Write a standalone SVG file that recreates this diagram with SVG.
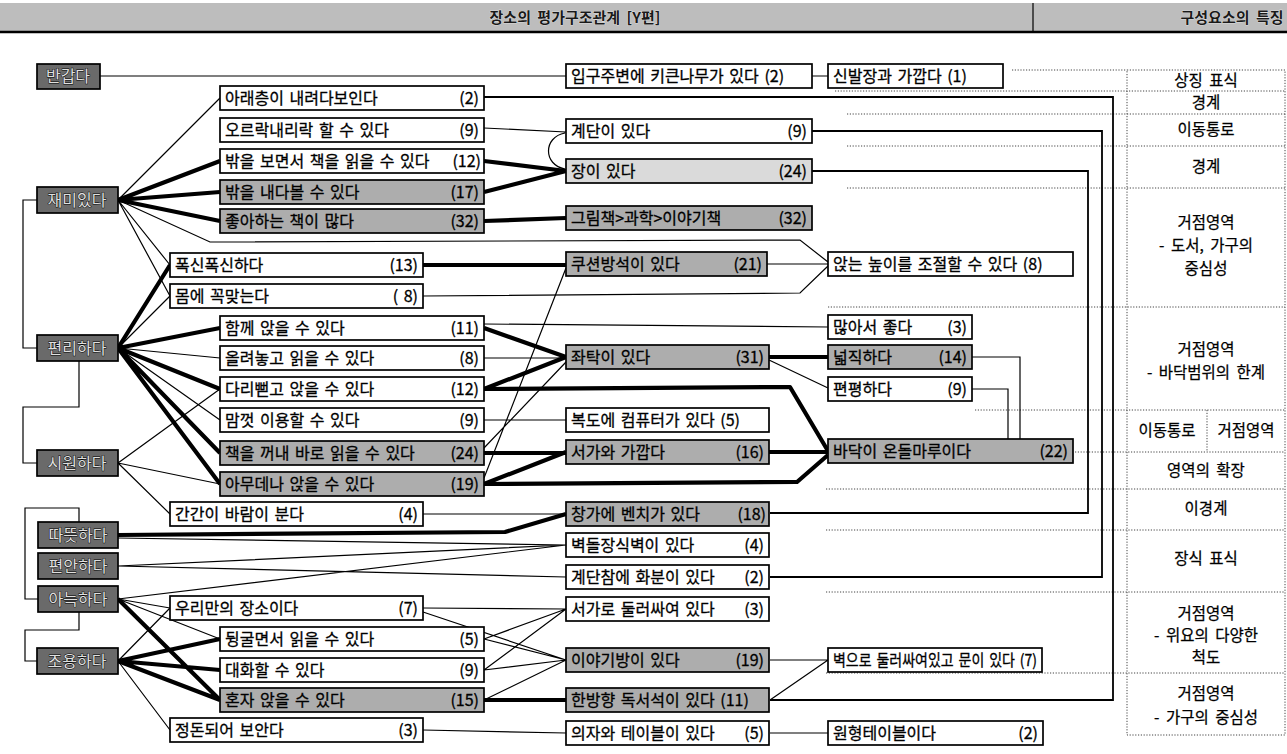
<svg xmlns="http://www.w3.org/2000/svg" width="1287" height="754" viewBox="0 0 1287 754">
<style>
.t{font-family:"Noto Sans CJK KR","Noto Sans",sans-serif;font-size:16px;fill:#000;stroke:#000;stroke-width:0.3;word-spacing:2px}
.c{text-anchor:end}
.w{fill:#fff;stroke:#000;stroke-width:1.7}
.g{fill:#adadad;stroke:#000;stroke-width:1.7}
.lg{fill:#dadada;stroke:#000;stroke-width:1.7}
.d{fill:#6a6a6a;stroke:#000;stroke-width:1.7}
.dt{font-family:"Noto Sans CJK KR","Noto Sans",sans-serif;font-size:16px;fill:#e0e0e0;stroke:#000;stroke-width:0.9;paint-order:stroke;text-anchor:middle}
.e{fill:none;stroke:#000;stroke-width:1.2}
.m2{fill:none;stroke:#000;stroke-width:1.8}
.E{fill:none;stroke:#000;stroke-width:4.2;stroke-linejoin:round}
.dot{fill:none;stroke:#444;stroke-width:1;stroke-dasharray:1.2 1.6}
.tb{font-family:"Noto Sans CJK KR","Noto Sans",sans-serif;font-size:15.5px;fill:#000;stroke:#000;stroke-width:0.25;text-anchor:middle;word-spacing:3px}
.hd{font-family:"Noto Sans CJK KR","Noto Sans",sans-serif;font-size:15px;font-weight:bold;fill:#1a1a1a;stroke:#f2f2f2;stroke-width:0.6;paint-order:stroke;text-anchor:middle;word-spacing:3px}
</style>
<rect width="1287" height="754" fill="#fff"/>
<g id="header">
<rect x="0" y="3" width="1287" height="28" fill="#bdbdbd"/>
<line x1="0" y1="32" x2="1287" y2="32" stroke="#000" stroke-width="2.5"/>
<line x1="1033" y1="3" x2="1033" y2="31" stroke="#000" stroke-width="1.2"/>
<text class="hd" x="575" y="23">장소의 평가구조관계 [Y편]</text>
<text class="hd" x="1232" y="23">구성요소의 특징</text>
</g>
<g id="table">
<rect x="1127" y="70" width="158" height="665" class="dot"/>
<path class="dot" d="M1012,70H1127M835,91H1285M847,114H1285M847,146H1285M847,188H1285M828,307H1285M975,410H1285M1075,452H1285M826,489H1285M826,530H1285M826,592H1285M826,673H1285M1207,410V452"/>
<text class="tb" x="1206" y="86">상징 표식</text>
<text class="tb" x="1206" y="108">경계</text>
<text class="tb" x="1206" y="135">이동통로</text>
<text class="tb" x="1206" y="172">경계</text>
<text class="tb" x="1206" y="228">거점영역</text>
<text class="tb" x="1206" y="251">- 도서, 가구의</text>
<text class="tb" x="1206" y="274">중심성</text>
<text class="tb" x="1206" y="355">거점영역</text>
<text class="tb" x="1206" y="378">- 바닥범위의 한계</text>
<text class="tb" x="1167" y="436">이동통로</text>
<text class="tb" x="1246" y="436">거점영역</text>
<text class="tb" x="1206" y="476">영역의 확장</text>
<text class="tb" x="1206" y="514">이경계</text>
<text class="tb" x="1206" y="564">장식 표식</text>
<text class="tb" x="1206" y="619">거점영역</text>
<text class="tb" x="1206" y="641">- 위요의 다양한</text>
<text class="tb" x="1206" y="663">척도</text>
<text class="tb" x="1206" y="699">거점영역</text>
<text class="tb" x="1206" y="723">- 가구의 중심성</text>
</g>
<g id="connectors">
<path class="e" d="M37,200H23V348H37M79,361V407H23V463H37M79,522V508H25V599H38M79,612V630H25V661H37"/>
<path class="e" d="M100,76H566M812,76H828"/>
<path class="e" d="M118,200L220,98M118,200L170,265M118,200L170,296M118,200L210,242L800,240L828,262"/>
<path class="E" d="M118,200L220,161M118,200L220,192M118,200L220,221"/>
<path class="m2" d="M484,97H1113V700H770"/>
<path class="m2" d="M812,131H1102V577H770"/>
<path class="m2" d="M812,171H1088V513H770"/>
<path class="e" d="M484,128L566,132M565,133C543,137 543,165 565,169"/>
<path class="E" d="M484,161L566,171M484,192L566,171M484,221L566,218"/>
<path class="E" d="M423,265H566"/>
<path class="e" d="M423,296L800,293L828,266M767,264H828"/>
<path class="E" d="M118,348L170,265M118,348L220,328M118,348L220,389M118,348L220,453M118,348L220,484"/>
<path class="e" d="M118,348L170,296M118,348L220,358M118,348L220,420"/>
<path class="e" d="M118,463L220,389M118,463L220,484M118,463L170,514"/>
<path class="E" d="M484,328L566,357M484,389L566,357M484,389L790,387L828,451M484,453H566M484,484L566,452M484,484L797,482L828,455M769,357H828M769,452H828"/>
<path class="e" d="M484,324L828,327M484,358H566M484,420H566M484,448L566,362M484,478L566,268M769,360L828,388"/>
<path class="e" d="M972,357H1020V439M972,389H1008V439"/>
<path class="e" d="M423,514H566"/>
<path class="E" d="M118,535L505,532L566,514"/>
<path class="e" d="M118,538L566,545M118,566L566,545M118,566L566,577M118,599L566,545"/>
<path class="e" d="M118,599L170,608M118,599L220,639M118,661L170,608M118,661L170,730"/>
<path class="E" d="M118,599L220,700M118,661L220,639M118,661L220,670M118,661L220,700M484,700H566"/>
<path class="e" d="M423,608L566,609M423,612L566,660M484,639L566,609M484,639L566,660M484,670L566,609M484,670L566,660M484,700L566,660M423,730L566,733"/>
<path class="e" d="M770,660H828M770,700L828,660M770,733H828"/>
</g>
<g id="n-bangapda"><rect class="d" x="37" y="64" width="63" height="25"/><text class="dt" x="68" y="82">반갑다</text></g>
<g id="n-jaemi"><rect class="d" x="37" y="187" width="81" height="26"/><text class="dt" x="77" y="206">재미있다</text></g>
<g id="n-pyeonri"><rect class="d" x="37" y="335" width="81" height="26"/><text class="dt" x="77" y="354">편리하다</text></g>
<g id="n-siwon"><rect class="d" x="37" y="450" width="81" height="26"/><text class="dt" x="77" y="469">시원하다</text></g>
<g id="n-ttatteut"><rect class="d" x="38" y="522" width="80" height="26"/><text class="dt" x="78" y="541">따뜻하다</text></g>
<g id="n-pyeonan"><rect class="d" x="38" y="553" width="80" height="26"/><text class="dt" x="78" y="572">편안하다</text></g>
<g id="n-aneuk"><rect class="d" x="38" y="586" width="80" height="26"/><text class="dt" x="78" y="605">아늑하다</text></g>
<g id="n-joyong"><rect class="d" x="37" y="648" width="81" height="26"/><text class="dt" x="77" y="667">조용하다</text></g>

<g id="a1"><rect class="w" x="220" y="86" width="264" height="24"/><text class="t" x="225" y="104">아래층이 내려다보인다</text><text class="t c" x="479" y="104">(2)</text></g>
<g id="a2"><rect class="w" x="220" y="118" width="264" height="24"/><text class="t" x="225" y="136">오르락내리락 할 수 있다</text><text class="t c" x="479" y="136">(9)</text></g>
<g id="a3"><rect class="w" x="220" y="149" width="264" height="24"/><text class="t" x="225" y="167">밖을 보면서 책을 읽을 수 있다</text><text class="t c" x="481" y="167">(12)</text></g>
<g id="a4"><rect class="g" x="220" y="180" width="264" height="24"/><text class="t" x="225" y="198">밖을 내다볼 수 있다</text><text class="t c" x="479" y="198">(17)</text></g>
<g id="a5"><rect class="g" x="220" y="209" width="264" height="24"/><text class="t" x="225" y="227">좋아하는 책이 많다</text><text class="t c" x="479" y="227">(32)</text></g>
<g id="a6"><rect class="w" x="170" y="253" width="253" height="24"/><text class="t" x="175" y="271">폭신폭신하다</text><text class="t c" x="418" y="271">(13)</text></g>
<g id="a7"><rect class="w" x="170" y="284" width="253" height="24"/><text class="t" x="175" y="302">몸에 꼭맞는다</text><text class="t c" x="418" y="302">( 8)</text></g>
<g id="a8"><rect class="w" x="220" y="316" width="264" height="24"/><text class="t" x="225" y="334">함께 앉을 수 있다</text><text class="t c" x="479" y="334">(11)</text></g>
<g id="a9"><rect class="w" x="220" y="346" width="264" height="24"/><text class="t" x="225" y="364">올려놓고 읽을 수 있다</text><text class="t c" x="479" y="364">(8)</text></g>
<g id="a10"><rect class="w" x="220" y="377" width="264" height="24"/><text class="t" x="225" y="395">다리뻗고 앉을 수 있다</text><text class="t c" x="479" y="395">(12)</text></g>
<g id="a11"><rect class="w" x="220" y="408" width="264" height="24"/><text class="t" x="225" y="426">맘껏 이용할 수 있다</text><text class="t c" x="479" y="426">(9)</text></g>
<g id="a12"><rect class="g" x="220" y="441" width="264" height="24"/><text class="t" x="225" y="459">책을 꺼내 바로 읽을 수 있다</text><text class="t c" x="479" y="459">(24)</text></g>
<g id="a13"><rect class="g" x="220" y="472" width="264" height="24"/><text class="t" x="225" y="490">아무데나 앉을 수 있다</text><text class="t c" x="479" y="490">(19)</text></g>
<g id="a14"><rect class="w" x="170" y="502" width="253" height="24"/><text class="t" x="175" y="520">간간이 바람이 분다</text><text class="t c" x="418" y="520">(4)</text></g>
<g id="a15"><rect class="w" x="170" y="596" width="253" height="24"/><text class="t" x="175" y="614">우리만의 장소이다</text><text class="t c" x="418" y="614">(7)</text></g>
<g id="a16"><rect class="w" x="220" y="627" width="264" height="24"/><text class="t" x="225" y="645">뒹굴면서 읽을 수 있다</text><text class="t c" x="479" y="645">(5)</text></g>
<g id="a17"><rect class="w" x="220" y="658" width="264" height="24"/><text class="t" x="225" y="676">대화할 수 있다</text><text class="t c" x="479" y="676">(9)</text></g>
<g id="a18"><rect class="g" x="220" y="688" width="264" height="24"/><text class="t" x="225" y="706">혼자 앉을 수 있다</text><text class="t c" x="479" y="706">(15)</text></g>
<g id="a19"><rect class="w" x="170" y="718" width="253" height="24"/><text class="t" x="175" y="736">정돈되어 보안다</text><text class="t c" x="418" y="736">(3)</text></g>

<g id="b1"><rect class="w" x="566" y="64" width="246" height="24"/><text class="t" x="571" y="82">입구주변에 키큰나무가 있다 (2)</text></g>
<g id="b2"><rect class="w" x="566" y="119" width="246" height="24"/><text class="t" x="571" y="137">계단이 있다</text><text class="t c" x="807" y="137">(9)</text></g>
<g id="b3"><rect class="lg" x="566" y="159" width="246" height="24"/><text class="t" x="571" y="177">장이 있다</text><text class="t c" x="807" y="177">(24)</text></g>
<g id="b4"><rect class="g" x="566" y="206" width="246" height="24"/><text class="t" x="571" y="224">그림책&gt;과학&gt;이야기책</text><text class="t c" x="807" y="224">(32)</text></g>
<g id="b5"><rect class="g" x="566" y="252" width="201" height="24"/><text class="t" x="571" y="270">쿠션방석이 있다</text><text class="t c" x="762" y="270">(21)</text></g>
<g id="b6"><rect class="g" x="566" y="345" width="203" height="24"/><text class="t" x="571" y="363">좌탁이 있다</text><text class="t c" x="764" y="363">(31)</text></g>
<g id="b7"><rect class="w" x="566" y="408" width="203" height="24"/><text class="t" x="571" y="426">복도에 컴퓨터가 있다 (5)</text></g>
<g id="b8"><rect class="g" x="566" y="440" width="203" height="24"/><text class="t" x="571" y="458">서가와 가깝다</text><text class="t c" x="764" y="458">(16)</text></g>
<g id="b9"><rect class="g" x="566" y="502" width="203" height="24"/><text class="t" x="571" y="520">창가에 벤치가 있다</text><text class="t c" x="766" y="520">(18)</text></g>
<g id="b10"><rect class="w" x="566" y="533" width="203" height="24"/><text class="t" x="571" y="551">벽돌장식벽이 있다</text><text class="t c" x="764" y="551">(4)</text></g>
<g id="b11"><rect class="w" x="566" y="565" width="203" height="24"/><text class="t" x="571" y="583">계단참에 화분이 있다</text><text class="t c" x="764" y="583">(2)</text></g>
<g id="b12"><rect class="w" x="566" y="597" width="203" height="24"/><text class="t" x="571" y="615">서가로 둘러싸여 있다</text><text class="t c" x="764" y="615">(3)</text></g>
<g id="b13"><rect class="g" x="566" y="648" width="203" height="24"/><text class="t" x="571" y="666">이야기방이 있다</text><text class="t c" x="764" y="666">(19)</text></g>
<g id="b14"><rect class="g" x="566" y="688" width="203" height="24"/><text class="t" x="571" y="706">한방향 독서석이 있다 (11)</text></g>
<g id="b15"><rect class="w" x="566" y="721" width="203" height="24"/><text class="t" x="571" y="739">의자와 테이블이 있다</text><text class="t c" x="764" y="739">(5)</text></g>

<g id="c1"><rect class="w" x="828" y="64" width="175" height="24"/><text class="t" x="833" y="82">신발장과 가깝다 (1)</text></g>
<g id="c2"><rect class="w" x="828" y="252" width="245" height="24"/><text class="t" x="833" y="270">앉는 높이를 조절할 수 있다 (8)</text></g>
<g id="c3"><rect class="w" x="828" y="315" width="144" height="24"/><text class="t" x="833" y="333">많아서 좋다</text><text class="t c" x="967" y="333">(3)</text></g>
<g id="c4"><rect class="g" x="828" y="345" width="144" height="24"/><text class="t" x="833" y="363">넓직하다</text><text class="t c" x="967" y="363">(14)</text></g>
<g id="c5"><rect class="w" x="828" y="377" width="144" height="24"/><text class="t" x="833" y="395">편평하다</text><text class="t c" x="967" y="395">(9)</text></g>
<g id="c6"><rect class="g" x="828" y="439" width="245" height="24"/><text class="t" x="833" y="457">바닥이 온돌마루이다</text><text class="t c" x="1068" y="457">(22)</text></g>
<g id="c7"><rect class="w" x="828" y="648" width="214" height="24"/><text class="t" x="833" y="666" textLength="204" lengthAdjust="spacingAndGlyphs">벽으로 둘러싸여있고 문이 있다 (7)</text></g>
<g id="c8"><rect class="w" x="828" y="721" width="215" height="24"/><text class="t" x="833" y="739">원형테이블이다</text><text class="t c" x="1038" y="739">(2)</text></g>
</svg>
